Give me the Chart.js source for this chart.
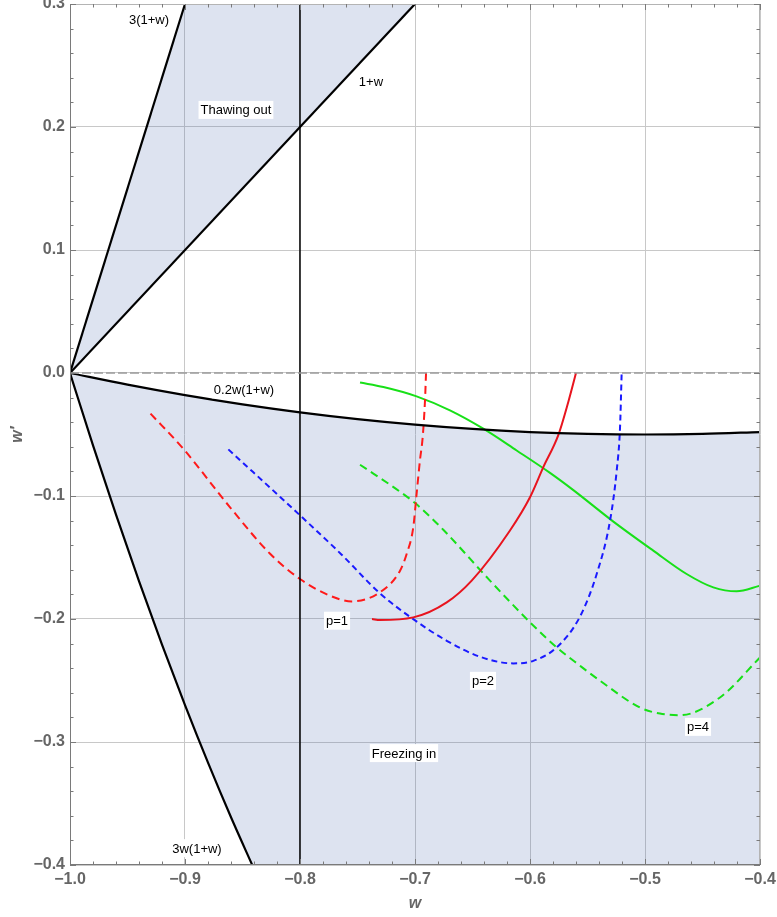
<!DOCTYPE html>
<html>
<head>
<meta charset="utf-8">
<script src="https://cdn.jsdelivr.net/npm/chart.js@4.4.0/dist/chart.umd.min.js"></script>
<style>
  html, body { margin: 0; padding: 0; background: #fff; }
</style>
</head>
<body>
<canvas id="chart" width="777" height="917"></canvas>
<script>
// axis range and labelled ticks
const xMin = -1.0, xMax = -0.4, yMin = -0.4, yMax = 0.3;
const xMajorTicks = [-1.0, -0.9, -0.8, -0.7, -0.6, -0.5, -0.4];
const yMajorTicks = [-0.4, -0.3, -0.2, -0.1, 0.0, 0.1, 0.2, 0.3];

// boundary lines: 3(1+w), 1+w, 0.2w(1+w), 3w(1+w)
const thawUpperW = [-1.0, -0.9];
const thawUpperY = [0.0, 0.3];
const thawLowerW = [-1.0, -0.7];
const thawLowerY = [0.0, 0.3];
const freezeUpperW = [-1.0, -0.95, -0.9, -0.85, -0.8, -0.75, -0.7, -0.65, -0.6, -0.55, -0.5, -0.45, -0.4];
const freezeUpperY = [0.0, -0.0095, -0.018, -0.0255, -0.032, -0.0375, -0.042, -0.0455, -0.048, -0.0495, -0.05, -0.0495, -0.048];
const freezeLowerW = [-1.0, -0.98, -0.96, -0.94, -0.92, -0.9, -0.88, -0.86, -0.84];
const freezeLowerY = [0.0, -0.0588, -0.1152, -0.1692, -0.2208, -0.27, -0.3168, -0.3612, -0.4032];
const cutW = -0.8;

// p = 1 (red)
const p1DashW = [-0.930, -0.9015, -0.861, -0.826, -0.800, -0.774, -0.755, -0.730, -0.713, -0.7072, -0.7015, -0.6986, -0.6957, -0.6933, -0.6913, -0.6904];
const p1DashY = [-0.033, -0.0616, -0.109, -0.147, -0.1675, -0.181, -0.1857, -0.178, -0.1607, -0.147, -0.1254, -0.0982, -0.0711, -0.052, -0.0222, 0.0];
const p1SolidW = [-0.7374, -0.7304, -0.7015, -0.6724, -0.6507, -0.6174, -0.600, -0.5884, -0.5754, -0.5667, -0.560];
const p1SolidY = [-0.2, -0.2008, -0.1987, -0.1865, -0.1688, -0.128, -0.101, -0.0765, -0.0505, -0.0235, 0.0];

// p = 2 (blue)
const p2DashW = [-0.8623, -0.7985, -0.764, -0.7304, -0.7029, -0.6724, -0.6435, -0.6145, -0.5971, -0.5768, -0.5565, -0.542, -0.5304, -0.5246, -0.5217, -0.5203];
const p2DashY = [-0.0621, -0.117, -0.1475, -0.1792, -0.1992, -0.2177, -0.2307, -0.2361, -0.234, -0.2231, -0.198, -0.1634, -0.12, -0.0792, -0.044, 0.0];

// p = 4 (green)
const p4SolidW = [-0.7478, -0.7275, -0.6986, -0.6696, -0.6406, -0.6116, -0.5826, -0.5623, -0.5275, -0.4928, -0.4638, -0.4406, -0.4203, -0.4];
const p4SolidY = [-0.0078, -0.0114, -0.019, -0.0304, -0.0453, -0.063, -0.0812, -0.0952, -0.1208, -0.1444, -0.1634, -0.1743, -0.1775, -0.173];
const p4DashW = [-0.7478, -0.713, -0.6986, -0.6754, -0.6348, -0.6, -0.5768, -0.5565, -0.5391, -0.5043, -0.487, -0.4696, -0.4348, -0.4];
const p4DashY = [-0.0746, -0.0965, -0.1068, -0.1275, -0.1688, -0.2027, -0.2231, -0.238, -0.2502, -0.272, -0.2769, -0.2782, -0.2638, -0.2313];

// text labels
const labelText = ["3(1+w)", "1+w", "Thawing out", "0.2w(1+w)", "p=1", "p=2", "p=4", "Freezing in", "3w(1+w)"];
const labelW = [-0.9313, -0.7383, -0.8557, -0.8487, -0.7678, -0.6409, -0.4539, -0.7096, -0.8896];
const labelY = [0.2872, 0.2367, 0.2139, -0.0133, -0.2014, -0.2503, -0.2877, -0.309, -0.3863];

const pts = (ws, ys) => ws.map((w, i) => ({ x: w, y: ys[i] }));

const thawShape = pts(thawUpperW, thawUpperY)
  .concat(pts(thawLowerW, thawLowerY).reverse());
const freezeShape = pts(freezeUpperW, freezeUpperY)
  .concat([{ x: xMax, y: yMin }, { x: freezeLowerW[freezeLowerW.length - 1], y: yMin }])
  .concat(pts(freezeLowerW, freezeLowerY).reverse());

const minorTicks = (majors) => {
  const out = [];
  for (let i = 0; i < majors.length - 1; i++) {
    for (let k = 0; k < 5; k++) out.push(+(majors[i] + k * (majors[i + 1] - majors[i]) / 5).toFixed(3));
  }
  out.push(majors[majors.length - 1]);
  return out;
};
const xAllTicks = minorTicks(xMajorTicks);
const yAllTicks = minorTicks(yMajorTicks);
const isMajor = (v) => Math.abs(v * 10 - Math.round(v * 10)) < 1e-6;
const fmt = (v) => v.toFixed(1).replace("-", "\u2212");

const shade = "rgba(68, 100, 170, 0.18)";
const font = "'Liberation Sans', Arial, sans-serif";

const decor = {
  id: "decor",
  afterDatasetsDraw(chart) {
    const { ctx, chartArea: a, scales: { x, y } } = chart;
    ctx.save();
    ctx.lineWidth = 1;
    ctx.strokeStyle = "#b4b4b4";
    ctx.beginPath();
    ctx.moveTo(a.left, a.top + 0.5);
    ctx.lineTo(a.right - 0.5, a.top + 0.5);
    ctx.lineTo(a.right - 0.5, a.bottom);
    ctx.stroke();
    ctx.strokeStyle = "#7a7a7a";
    ctx.beginPath();
    ctx.moveTo(a.left + 0.5, a.top);
    ctx.lineTo(a.left + 0.5, a.bottom - 0.5);
    ctx.lineTo(a.right, a.bottom - 0.5);
    ctx.stroke();
    ctx.beginPath();
    xAllTicks.forEach((v) => {
      const px = Math.round(x.getPixelForValue(v)) + 0.5;
      const len = isMajor(v) ? 6 : 3.5;
      ctx.moveTo(px, a.bottom); ctx.lineTo(px, a.bottom - len);
      ctx.moveTo(px, a.top); ctx.lineTo(px, a.top + len);
    });
    yAllTicks.forEach((v) => {
      const py = Math.round(y.getPixelForValue(v)) + 0.5;
      const len = isMajor(v) ? 6 : 3.5;
      ctx.moveTo(a.left, py); ctx.lineTo(a.left + len, py);
      ctx.moveTo(a.right, py); ctx.lineTo(a.right - len, py);
    });
    ctx.stroke();
    ctx.restore();
  },
  afterDraw(chart) {
    const { ctx, chartArea: a, scales: { x, y } } = chart;
    ctx.save();
    ctx.font = "13px " + font;
    ctx.textAlign = "center";
    ctx.textBaseline = "middle";
    labelText.forEach((t, i) => {
      const px = x.getPixelForValue(labelW[i]);
      const py = y.getPixelForValue(labelY[i]);
      const w = ctx.measureText(t).width;
      ctx.fillStyle = "#fff";
      ctx.fillRect(px - w / 2 - 2, py - 9, w + 4, 18);
      ctx.fillStyle = "#000";
      ctx.fillText(t, px, py + 1);
    });
    ctx.fillStyle = "#666";
    ctx.font = "italic bold 16px " + font;
    ctx.fillText("w", (a.left + a.right) / 2, 904);
    ctx.translate(18, (a.top + a.bottom) / 2);
    ctx.rotate(-Math.PI / 2);
    ctx.fillText("w\u2032", 0, 0);
    ctx.restore();
  },
};

const line = (data, color, width, dash) => ({
  data, borderColor: color, borderWidth: width, borderDash: dash || [],
  fill: false, cubicInterpolationMode: "monotone", pointRadius: 0,
});

new Chart(document.getElementById("chart"), {
  type: "line",
  data: {
    datasets: [
      line(pts([xMin, xMax], [0, 0]), "#9a9a9a", 1.5, [9, 3]),
      line([{ x: cutW, y: yMin }, { x: cutW, y: yMax }], "#000", 1.5),
      line(pts(thawUpperW, thawUpperY), "#000", 2.2),
      line(pts(thawLowerW, thawLowerY), "#000", 2.2),
      line(pts(freezeUpperW, freezeUpperY), "#000", 2.2),
      line(pts(freezeLowerW, freezeLowerY), "#000", 2.2),
      line(pts(p1DashW, p1DashY), "#ff1a1a", 2, [8, 5]),
      line(pts(p1SolidW, p1SolidY), "#e8141e", 2),
      line(pts(p2DashW, p2DashY), "#1a1aff", 2, [6, 4]),
      line(pts(p4SolidW, p4SolidY), "#18e018", 2),
      line(pts(p4DashW, p4DashY), "#18e018", 2, [8, 5]),
      { data: thawShape, fill: "shape", backgroundColor: shade, borderWidth: 0, borderColor: "transparent", pointRadius: 0, tension: 0, order: 10 },
      { data: freezeShape, fill: "shape", backgroundColor: shade, borderWidth: 0, borderColor: "transparent", pointRadius: 0, tension: 0, order: 10 },
    ],
  },
  options: {
    responsive: false,
    animation: false,
    devicePixelRatio: 1,
    layout: { padding: { top: 4, right: 17, left: 0, bottom: 0 } },
    plugins: { legend: { display: false }, tooltip: { enabled: false } },
    scales: {
      x: {
        type: "linear",
        min: xMin,
        max: xMax,
        afterBuildTicks: (s) => { s.ticks = xAllTicks.map((v) => ({ value: v })); },
        afterFit: (s) => { s.height = 52; s.paddingLeft = 0; s.paddingRight = 0; },
        ticks: {
          autoSkip: false,
          maxRotation: 0,
          padding: 5,
          color: "#666",
          font: { family: font, size: 16, weight: "bold" },
          callback: (v) => (isMajor(v) ? fmt(v) : ""),
        },
        grid: {
          drawTicks: false,
          color: (c) => (c.tick && isMajor(c.tick.value) ? "#c8c8c8" : "transparent"),
        },
        border: { display: false },
      },
      y: {
        type: "linear",
        min: yMin,
        max: yMax,
        afterBuildTicks: (s) => { s.ticks = yAllTicks.map((v) => ({ value: v })); },
        afterFit: (s) => { s.width = 70; s.paddingTop = 0; s.paddingBottom = 0; },
        ticks: {
          autoSkip: false,
          padding: 5,
          color: "#666",
          font: { family: font, size: 16, weight: "bold" },
          callback: (v) => (isMajor(v) ? fmt(v) : ""),
        },
        grid: {
          drawTicks: false,
          color: (c) => (c.tick && isMajor(c.tick.value) ? "#c8c8c8" : "transparent"),
        },
        border: { display: false },
      },
    },
  },
  plugins: [decor],
});
</script>
</body>
</html>
